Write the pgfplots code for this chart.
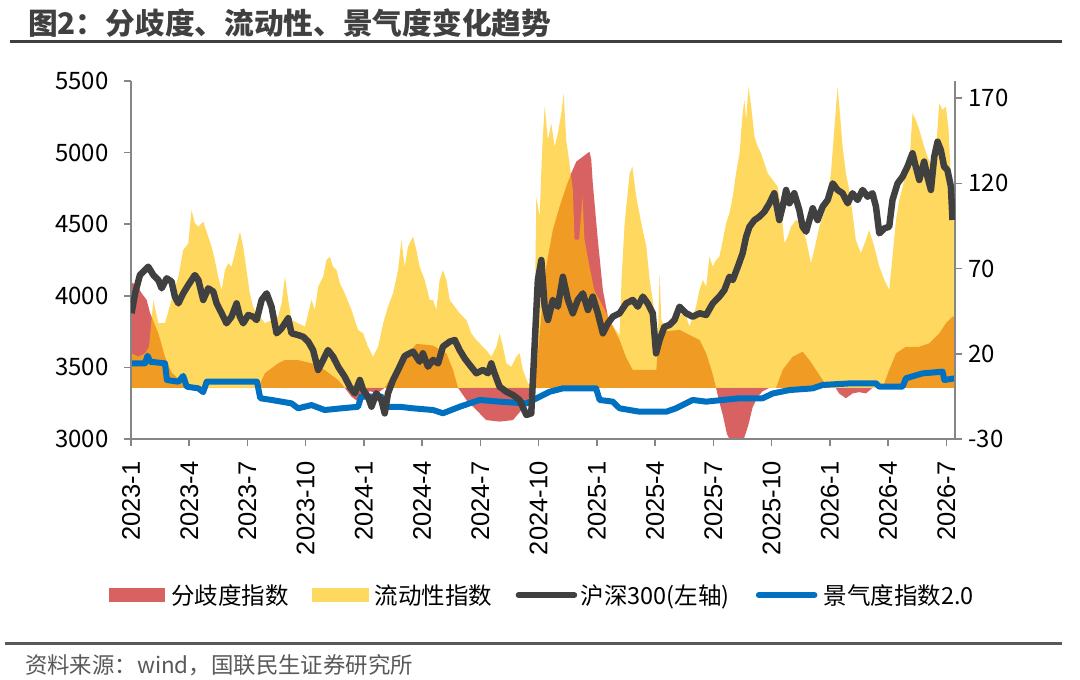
\documentclass[border=0pt]{standalone}
\usepackage{pgfplots}
\usepackage{pgfplotstable}
\pgfplotsset{compat=1.18}
\usepackage{fontspec}
\setmainfont{Noto Sans CJK SC}
\newfontfamily\lib{Liberation Sans}

\definecolor{divred}{RGB}{216,98,98}
\definecolor{liqyel}{RGB}{255,192,0}
\definecolor{csigray}{RGB}{64,64,64}
\definecolor{climblue}{RGB}{0,112,192}
\definecolor{axgray}{RGB}{134,134,134}
\definecolor{titlegray}{RGB}{64,64,64}
\definecolor{srcgray}{RGB}{89,89,89}

% 分歧度指数 (right axis)
\pgfplotstableread{
x y
0 62
0.3 60
0.55 55.5
0.81 51.5
0.98 44
1.41 32
1.75 18.3
2.09 9
2.6 3.6
3.12 0
6.55 0
6.9 8.6
7.58 14.4
7.93 16.3
8.61 16.3
9.3 14.4
9.98 10.5
10.67 4.6
11.01 0
11.36 -5.2
11.7 -8.1
12.04 -3.3
12.3 -2
12.7 -3
13.07 0
13.41 6.5
13.93 18.3
14.45 22.2
14.7 25.8
15.56 24.8
16.25 20.2
16.59 10.5
16.85 0
17.28 -7.1
17.79 -13.0
18.3 -18.9
18.99 -19.8
19.68 -18.9
20.19 -12.0
20.62 -3.3
20.79 0
21.05 32
21.39 71.1
21.73 92.6
22.08 106.3
22.42 118
22.68 125.9
22.94 132.7
23.28 135.6
23.62 138.5
23.71 134
23.79 120
24.05 86.7
24.31 57.4
24.57 41.7
25.17 28
25.5 18
25.85 10.5
27.06 10.5
27.2 30
27.3 33
28.26 34
29.29 28.1
29.63 20.4
29.95 8.7
30.14 0
30.3 -8
30.49 -16
30.7 -27
31.0 -34
31.3 -34
31.6 -29
31.8 -22
32.03 -11.1
32.3 -5
32.54 -2
32.89 0
33.23 0
33.57 10.5
34.09 18.3
34.6 21.2
34.95 16.3
35.29 10.5
35.63 4.6
35.97 0
36.3 0
36.48 -3.3
36.83 -6.1
37.17 -3.3
37.52 -2.5
37.86 -3.3
38.2 0
38.72 0
39.06 10.5
39.41 20.2
39.92 24.1
40.61 24.1
41.12 26.1
41.64 32
41.98 37.9
42.32 41.7
42.45 42
}\divtab

% 流动性指数 (right axis)
\pgfplotstableread{
x y
0 20.3
0.38 18.3
0.72 20.3
0.93 24.1
1.15 51.5
1.41 37.9
1.75 37.9
2.09 51.5
2.44 65.2
2.69 80.9
2.95 84.8
3.12 104.3
3.29 96.5
3.47 94.5
3.72 97.5
3.98 88.7
4.15 82.8
4.32 75
4.49 65.2
4.67 57.4
4.84 69.1
5.01 73.1
5.18 71.1
5.35 78.9
5.61 91.6
5.78 82.8
5.95 69.1
6.12 55.5
6.29 47.6
6.47 43.7
6.64 41.7
6.9 37.9
7.24 39.8
7.58 41.7
7.76 49.6
7.93 65.2
8.1 51.5
8.27 39.8
8.61 37.9
8.96 35.9
9.3 51.5
9.47 45.7
9.64 59.3
9.9 65.2
10.07 75
10.24 76.9
10.41 71.1
10.59 69.1
10.76 61.3
11.01 55.5
11.36 45.7
11.7 33.9
11.96 32
12.21 24.1
12.47 18.3
12.73 24.1
12.99 37.9
13.24 47.6
13.5 55.5
13.76 69.1
13.93 86.7
14.1 71.1
14.27 82.8
14.53 88.7
14.7 80.9
14.87 71.1
15.13 63.3
15.39 51.5
15.56 51.5
15.73 45.7
15.9 63.3
16.07 69.1
16.25 63.3
16.42 51.5
16.68 47.6
16.93 43.7
17.28 39.8
17.53 32
17.79 28.1
18.13 24.1
18.3 22.2
18.56 18.3
18.82 24.1
18.99 32
19.16 24.1
19.34 14.4
19.59 12.4
19.85 18.3
20.02 20.3
20.19 10.5
20.45 2.7
20.71 0
20.8 40
20.88 112.1
21.05 100.4
21.19 141.5
21.31 165
21.48 145.4
21.65 155.2
21.82 141.5
21.99 149.3
22.17 161.1
22.29 172.8
22.42 145.4
22.59 131.7
22.76 116
22.85 87
23.09 87
23.26 112
23.36 87
23.62 71
23.87 57
24.14 51.5
24.4 45.7
24.65 40
24.91 35
25.17 31
25.27 63.3
25.43 96.5
25.69 125.9
25.83 129.7
26.03 112.1
26.29 96.5
26.55 82.8
26.72 63.3
26.98 43.7
27.15 32
27.23 67.2
27.32 40
27.49 35.9
27.92 41.7
28.26 42
28.51 45
28.77 36
29.11 47.6
29.29 57.4
29.46 63.3
29.63 59.3
29.8 76.9
29.97 71.1
30.14 75
30.31 76.9
30.49 86.7
30.66 96.5
30.83 102.4
31.0 112.1
31.17 125.9
31.35 137.6
31.51 161.1
31.6 168.9
31.69 157.1
31.81 176.7
31.95 165
32.12 147.3
32.29 141.5
32.46 137.6
32.63 131.7
32.8 125.9
33.06 121.9
33.31 118
33.49 106.3
33.66 84.8
33.83 88.7
34.0 94.5
34.26 98.5
34.52 96.5
34.78 86.7
35.03 73.1
35.2 80.9
35.46 94.5
35.8 106.3
36.06 125.9
36.23 151.3
36.4 176.7
36.52 161.1
36.66 141.5
36.83 125.9
37.0 116
37.17 102.4
37.34 86.7
37.6 79
37.86 86.7
38.03 92.6
38.29 82.8
38.55 71.1
38.81 63.3
39.06 57.4
39.23 76.9
39.41 98.5
39.58 110.2
39.84 121.9
40.09 129.7
40.26 161.1
40.43 157.1
40.61 151.3
40.86 141.5
41.03 135.6
41.29 129.7
41.47 139.5
41.64 166.9
41.81 163
41.98 165
42.12 151.3
42.24 121.9
42.36 98.5
42.45 95
}\liqtab

% 沪深300 (left axis)
\pgfplotstableread{
x y
0.03 3878
0.21 4017
0.46 4145
0.89 4203
1.15 4145
1.41 4110
1.58 4052
1.84 4122
2.09 4099
2.26 3994
2.44 3947
2.69 4017
2.95 4075
3.29 4145
3.47 4110
3.72 3971
3.98 4052
4.24 4029
4.41 3947
4.67 3878
4.92 3808
5.18 3854
5.44 3947
5.61 3854
5.78 3808
6.04 3866
6.29 3854
6.47 3831
6.73 3971
6.99 4017
7.24 3924
7.50 3738
7.76 3773
8.10 3843
8.27 3738
8.61 3726
8.87 3714
9.13 3680
9.38 3621
9.64 3482
9.90 3552
10.15 3621
10.41 3575
10.67 3505
11.01 3435
11.27 3365
11.53 3319
11.79 3412
11.96 3342
12.21 3295
12.39 3226
12.64 3319
12.90 3272
13.07 3179
13.24 3319
13.50 3412
13.76 3482
14.10 3580
14.53 3610
14.87 3540
15.04 3598
15.30 3505
15.56 3552
15.82 3528
16.07 3645
16.42 3680
16.68 3691
16.93 3621
17.19 3563
17.45 3517
17.79 3459
18.13 3482
18.39 3459
18.56 3528
18.73 3459
18.99 3365
19.34 3330
19.68 3307
20.02 3272
20.37 3168
20.62 3179
20.79 3645
20.96 4110
21.14 4250
21.31 3924
21.48 3831
21.73 3971
21.99 3924
22.25 4133
22.51 3971
22.76 3878
23.02 3971
23.28 4017
23.54 3901
23.79 3994
24.05 3878
24.31 3738
24.57 3808
24.82 3854
25.17 3878
25.51 3947
25.85 3971
26.11 3924
26.37 3994
26.62 3947
26.88 3878
27.05 3598
27.23 3691
27.48 3784
27.74 3796
28.00 3831
28.26 3924
28.60 3878
28.94 3854
29.29 3878
29.63 3866
29.97 3947
30.31 3994
30.57 4040
30.83 4133
31.00 4110
31.26 4203
31.51 4297
31.69 4413
31.86 4482
32.12 4529
32.37 4552
32.63 4587
32.89 4646
33.14 4716
33.40 4529
33.57 4622
33.75 4739
33.92 4646
34.17 4716
34.43 4599
34.60 4482
34.78 4448
34.95 4529
35.12 4611
35.37 4529
35.63 4622
35.89 4669
36.15 4785
36.40 4739
36.66 4716
36.92 4646
37.17 4716
37.43 4669
37.69 4739
37.95 4692
38.20 4716
38.38 4622
38.55 4436
38.81 4471
39.06 4482
39.23 4669
39.49 4785
39.75 4832
40.00 4902
40.26 4995
40.43 4902
40.61 4809
40.86 4937
41.03 4832
41.21 4739
41.38 4971
41.55 5076
41.72 5018
41.89 4902
42.06 4878
42.24 4762
42.32 4529
}\csitab

% 景气度指数2.0 (right axis)
\pgfplotstableread{
x y
0.03 14.4
0.72 14.4
0.85 18.8
1.0 15.3
1.75 14.4
1.85 4.6
2.44 3.6
2.69 7.0
2.87 0.7
3.47 -0.3
3.72 -2.5
3.90 3.6
6.49 3.6
6.66 -6.1
7.24 -7.1
8.27 -9.1
8.61 -12.0
9.30 -10.1
9.98 -13.0
10.84 -12.0
11.70 -11.1
11.85 -5.2
12.90 -5.2
13.07 -11.1
13.84 -11.1
14.53 -12.0
15.56 -13.0
16.07 -14.9
16.93 -11.1
17.96 -7.1
18.99 -8.1
20.37 -9.1
21.05 -5.2
21.56 -2.3
22.25 -0.3
23.96 -0.3
24.14 -7.1
24.82 -8.1
25.17 -12.0
26.20 -14.0
27.57 -14.0
28.08 -12.0
28.94 -7.1
29.63 -8.1
31.35 -6.1
32.54 -6.1
33.06 -3.3
33.92 -1.3
35.12 -0.3
35.63 1.7
37.17 2.7
38.38 2.7
38.55 0.7
39.75 0.7
39.92 5.6
40.78 8.5
41.81 9.5
41.90 4.6
42.45 5.6
}\blutab

\begin{document}
\begin{tikzpicture}
\useasboundingbox (0pt,0pt) rectangle (1080pt,680pt);
\node[anchor=west, inner sep=0pt, text=titlegray, font=\bfseries\fontsize{29.7}{29.7}\selectfont] at (28pt,657pt) {图2：分歧度、流动性、景气度变化趋势};
\draw[titlegray, line width=3pt] (10pt,638.5pt) -- (1062pt,638.5pt);

\begin{axis}[
  at={(131pt,241pt)}, anchor=south west,
  scale only axis, width=824pt, height=358pt,
  xmin=0, xmax=42.45, ymin=-30, ymax=180,
  axis x line*=bottom, axis y line*=right,
  axis line style={axgray, line width=1.5pt, -},
  tick style={axgray, line width=1.5pt},
  tick align=outside, major tick length=7pt,
  xtick={0,3,...,42},
  xticklabels={2023-1,2023-4,2023-7,2023-10,2024-1,2024-4,2024-7,2024-10,2025-1,2025-4,2025-7,2025-10,2026-1,2026-4,2026-7},
  xticklabel style={font=\lib\fontsize{25.5}{25.5}\selectfont, rotate=90, anchor=east},
  xticklabel shift=12pt,
  ytick={-30,20,70,120,170},
  yticklabels={-30,20,70,120,170},
  yticklabel style={font=\fontsize{24}{24}\selectfont, anchor=west},
  yticklabel shift=3pt,
  axis on top,
  legend style={at={(0.4994,-0.4358)}, anchor=center, draw=none, fill=none,
    legend columns=4, font=\fontsize{23.5}{23.5}\selectfont, inner sep=0pt},
  legend cell align=left,
]
\addplot[fill=divred, draw=none, mark=none,
  legend image code/.code={\fill[divred] (0pt,-7pt) rectangle (56pt,7pt); \path (60pt,0pt);}]
  table[x=x,y=y]{\divtab} \closedcycle;
\addlegendentry{分歧度指数\rule{21pt}{0pt}}
\addplot[fill=liqyel, fill opacity=0.625, draw=none, mark=none,
  legend image code/.code={\fill[liqyel, fill opacity=0.625] (0pt,-7pt) rectangle (57pt,7pt); \path (61pt,0pt);}]
  table[x=x,y=y]{\liqtab} \closedcycle;
\addlegendentry{流动性指数\rule{21pt}{0pt}}
\addlegendimage{legend image code/.code={\draw[csigray, line width=5.5pt, line cap=round] (3pt,0pt) -- (59pt,0pt); \path (0pt,0pt) (63pt,0pt);}}
\addlegendentry{沪深300(左轴)\rule{21pt}{0pt}}
\addplot[climblue, line width=6pt, line join=round, mark=none,
  legend image code/.code={\draw[climblue, line width=5.5pt, line cap=round] (3pt,0pt) -- (59pt,0pt); \path (0pt,0pt) (63pt,0pt);}]
  table[x=x,y=y]{\blutab};
\addlegendentry{景气度指数2.0}
\end{axis}

\begin{axis}[
  at={(131pt,241pt)}, anchor=south west,
  scale only axis, width=824pt, height=358pt,
  xmin=0, xmax=42.45, ymin=3000, ymax=5500,
  hide x axis, axis y line*=left,
  axis line style={axgray, line width=1.5pt, -},
  tick style={axgray, line width=1.5pt},
  tick align=outside, major tick length=7pt,
  ytick={3000,3500,4000,4500,5000,5500},
  yticklabels={3000,3500,4000,4500,5000,5500},
  yticklabel style={font=\fontsize{24}{24}\selectfont, anchor=east},
  yticklabel shift=12pt,
]
\addplot[csigray, line width=6.5pt, line join=round, mark=none] table[x=x,y=y]{\csitab};
\end{axis}

\draw[srcgray, line width=3pt] (5pt,36pt) -- (1062pt,36pt);
\node[anchor=west, inner sep=0pt, text=srcgray, font=\fontsize{22.4}{22.4}\selectfont] at (25pt,15pt) {资料来源：wind，国联民生证券研究所};
\end{tikzpicture}
\end{document}
